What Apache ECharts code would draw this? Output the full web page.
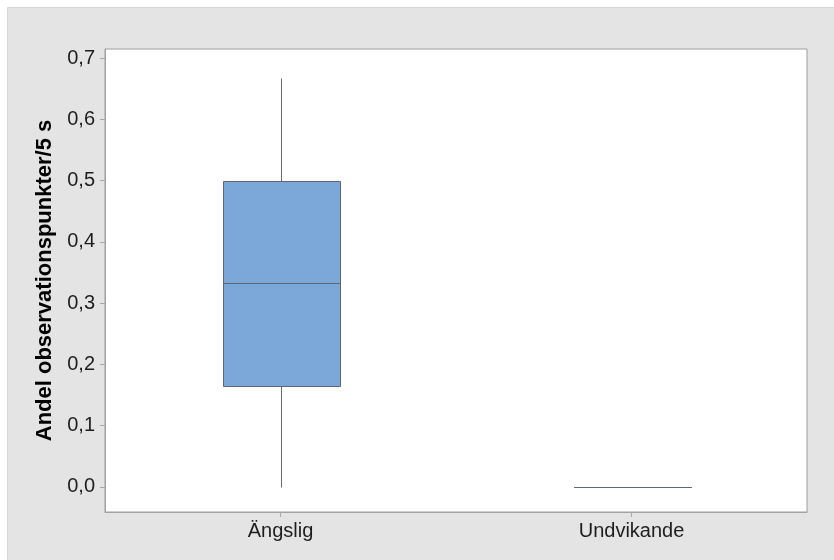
<!DOCTYPE html>
<html>
<head>
<meta charset="utf-8">
<style>
  html, body { margin: 0; padding: 0; background: #ffffff; }
  #chart { width: 834px; height: 560px; }
</style>
<script src="https://cdn.jsdelivr.net/npm/echarts@6/dist/echarts.min.js"></script>
</head>
<body>
<div id="chart"></div>
<script>
// Groups on the x axis
const categories = ['Ängslig', 'Undvikande'];

// Five-number summaries per group
const whiskerLow = [0, 0];
const quartile1 = [0.165, 0];
const medians = [0.333, 0];
const quartile3 = [0.5, 0];
const whiskerHigh = [0.667, 0];

// Y axis tick values
const yTicks = [0, 0.1, 0.2, 0.3, 0.4, 0.5, 0.6, 0.7];

const boxData = categories.map((c, i) => [i, whiskerLow[i], quartile1[i], medians[i], quartile3[i], whiskerHigh[i]]);

const fontFamily = '"Liberation Sans", Arial, sans-serif';
const chart = echarts.init(document.getElementById('chart'), null, { renderer: 'canvas' });

// Box with whiskers (no end caps)
function renderBox(params, api) {
  const idx = api.value(0);
  const pMin = api.coord([idx, api.value(1)]);
  const pQ1 = api.coord([idx, api.value(2)]);
  const pMed = api.coord([idx, api.value(3)]);
  const pQ3 = api.coord([idx, api.value(4)]);
  const pMax = api.coord([idx, api.value(5)]);
  const bandW = api.size([1, 0])[0];
  const w = bandW * 0.333;
  const cx = Math.round(pMed[0]) + 0.5;
  const whiskerStyle = { stroke: '#6b6b6b', lineWidth: 1, fill: null };
  const boxStroke = '#5d6672';
  const snap = y => Math.round(y) + 0.5;
  return {
    type: 'group',
    children: [
      { type: 'line', shape: { x1: cx, y1: snap(pMin[1]), x2: cx, y2: snap(pQ1[1]) }, style: whiskerStyle },
      { type: 'line', shape: { x1: cx, y1: snap(pQ3[1]), x2: cx, y2: snap(pMax[1]) }, style: whiskerStyle },
      { type: 'rect', shape: { x: Math.round(cx - w / 2) + 0.5, y: snap(pQ3[1]), width: Math.round(w), height: snap(pQ1[1]) - snap(pQ3[1]) },
        style: { fill: '#7ba7d9', stroke: boxStroke, lineWidth: 1 } },
      { type: 'line', shape: { x1: Math.round(cx - w / 2) + 0.5, y1: snap(pMed[1]), x2: Math.round(cx - w / 2) + 0.5 + Math.round(w), y2: snap(pMed[1]) },
        style: { stroke: boxStroke, lineWidth: 1 } }
    ]
  };
}

chart.setOption({
  animation: false,
  backgroundColor: '#ffffff',
  graphic: [
    { type: 'rect', z: -10, shape: { x: 7.5, y: 7.5, width: 840, height: 560 },
      style: { fill: '#e4e4e4', stroke: '#d6d6d6', lineWidth: 1 } }
  ],
  grid: {
    left: 105, top: 49, width: 702, height: 463,
    show: true, backgroundColor: '#ffffff', borderColor: '#9e9e9e', borderWidth: 1
  },
  xAxis: {
    type: 'category',
    data: categories,
    boundaryGap: true,
    axisLine: { show: true, onZero: false, lineStyle: { color: '#a3a3a3', width: 1 } },
    axisTick: { show: true, alignWithLabel: true, length: 5, lineStyle: { color: '#a8a8a8' } },
    axisLabel: { color: '#1e1e1e', fontSize: 20, fontFamily, margin: 9 },
    splitLine: { show: false }
  },
  yAxis: {
    type: 'value',
    min: -0.041,
    max: 0.7147,
    name: 'Andel observationspunkter/5 s',
    nameLocation: 'middle',
    nameGap: 49,
    nameTextStyle: { color: '#000000', fontSize: 22, fontWeight: 'bold', fontFamily },
    axisLine: { show: true, lineStyle: { color: '#a3a3a3', width: 1 } },
    axisTick: { show: true, length: 5, lineStyle: { color: '#a8a8a8' }, customValues: yTicks },
    axisLabel: {
      color: '#1e1e1e', fontSize: 20, fontFamily, margin: 10,
      customValues: yTicks,
      formatter: v => v.toFixed(1).replace('.', ',')
    },
    splitLine: { show: false }
  },
  series: [
    {
      type: 'custom',
      renderItem: renderBox,
      data: boxData,
      encode: { x: 0, y: [1, 2, 3, 4, 5] },
      clip: false
    }
  ]
});
</script>
</body>
</html>
